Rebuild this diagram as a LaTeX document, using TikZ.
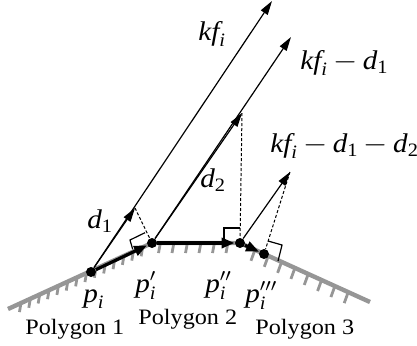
\documentclass[tikz,border=0pt]{standalone}
\usepackage{amsmath}
\usepackage{graphicx}
\usepackage{fontspec}
\setmainfont{Liberation Serif}
\usetikzlibrary{arrows.meta,calc}
\definecolor{surfgray}{RGB}{150,150,150}
\newcommand{\mwide}[1]{\scalebox{1.08}[1]{\medmuskip=3mu #1}}
\newcommand{\twide}[1]{\scalebox{1.1}[1]{#1}}
\begin{document}
\begin{tikzpicture}[x=0.5pt,y=-0.5pt,
  vec/.style={line width=0.6pt,-{Triangle[length=7pt,width=4pt]}},
  mov/.style={line width=1.6pt,-{Triangle[length=6.5pt,width=5pt]}},
  proj/.style={line width=0.5pt,dash pattern=on 1.5pt off 1pt},
  rmark/.style={line width=0.6pt},
  surf/.style={draw=surfgray,line width=2.2pt},
  hatch/.style={draw=surfgray,line width=1.4pt},
  dot/.style={circle,fill=black,inner sep=0pt,minimum size=5pt},
  mlab/.style={font=\fontsize{13.5}{16}\selectfont,inner sep=0pt,anchor=base west},
  tlab/.style={font=\fontsize{11}{13}\selectfont,inner sep=0pt,anchor=base west}]
\useasboundingbox (0,0) rectangle (417,345);
% surface
\coordinate (s1) at (8,309);
\coordinate (s4) at (370,302);
\coordinate (pi) at (91,272);
\coordinate (pa) at (152,243);
\coordinate (pb) at (240,243);
\coordinate (pc) at (264,254);
\draw[surf] (s1) -- (pa) -- (pb) -- (s4);
\foreach \t in {0.09,0.155,...,0.96} \draw[hatch] ($(s1)!\t!(pa)$) -- ++(-1.5,9);
\foreach \x in {160,173.5,...,231} \draw[hatch] (\x,245) -- ++(-1.5,8);
\foreach \t in {0.115,0.2175,...,0.93} \draw[hatch] ($(pb)!\t!(s4)$) -- ++(-4,11);
% points
\node[dot] (npi) at (pi) {};
\node[dot] (npa) at (pa) {};
\node[dot] (npb) at (pb) {};
\node[dot] (npc) at (pc) {};
% vector tips
\coordinate (kft) at (272,1);
\coordinate (d1t) at (135,208);
\coordinate (kf1t) at (291,37);
\coordinate (d2t) at (242,113);
\coordinate (kf2t) at (290,172);
% projections
\draw[proj] (d1t) -- (npa);
\draw[proj] (d2t) -- (npb);
\draw[proj] (kf2t) -- (npc);
\draw[rmark] (145,232.7) -- (130,240) -- (132.7,249.3);
\draw[rmark] (224,243) -- (224,228) -- (240,228);
\draw[rmark] (268,241) -- (282,245) -- (278,261);
% vectors
\draw[vec] (npi) -- (kft);
\draw[vec] (npi) -- (d1t);
\draw[vec] (npa) -- (kf1t);
\draw[vec] (npa) -- (d2t);
\draw[vec] (npb) -- (kf2t);
\draw[mov] (npi) -- (npa);
\draw[mov] (npa) -- (npb);
\draw[mov] (npb) -- (npc);
% labels
\node[mlab] (lkf) at (198,40) {\mwide{$\textit{kf}_{\textit{i}}$}};
\node[mlab] (lkf1) at (300,69) {\mwide{$\textit{kf}_{\textit{i}}-\textit{d}_{\textrm{1}}$}};
\node[mlab] (lkf2) at (270,152) {\mwide{$\textit{kf}_{\textit{i}}-\textit{d}_{\textrm{1}}-\textit{d}_{\textrm{2}}$}};
\node[mlab] (ld1) at (87,228) {\mwide{$\textit{d}_{\textrm{1}}$}};
\node[mlab] (ld2) at (200,187) {\mwide{$\textit{d}_{\textrm{2}}$}};
\node[mlab] (lpi) at (83,302) {\mwide{$\textit{p}_{\textit{i}}$}};
\node[mlab] (lpa) at (135,292) {\mwide{$\textit{p}_{\textit{i}}^{\prime}$}};
\node[mlab] (lpb) at (205,292) {\mwide{$\textit{p}_{\textit{i}}^{\prime\prime}$}};
\node[mlab] (lpc) at (245,302) {\mwide{$\textit{p}_{\textit{i}}^{\prime\prime\prime}$}};
\node[tlab] (poly1) at (25,334) {\twide{Polygon 1}};
\node[tlab] (poly2) at (138,324) {\twide{Polygon 2}};
\node[tlab] (poly3) at (255,334) {\twide{Polygon 3}};
\end{tikzpicture}
\end{document}
